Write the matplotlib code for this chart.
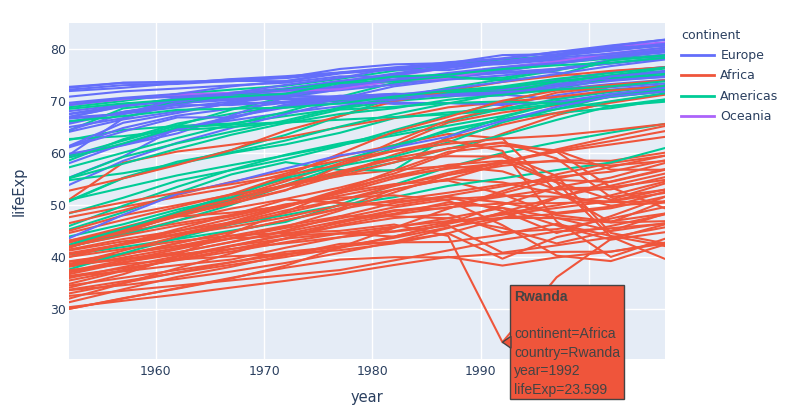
import matplotlib
matplotlib.use("Agg")
import matplotlib.pyplot as plt
from matplotlib.lines import Line2D
from matplotlib.patches import Rectangle, Polygon

years = [1952, 1957, 1962, 1967, 1972, 1977, 1982, 1987, 1992, 1997, 2002, 2007]

europe = {
    "Albania": [55.23, 59.28, 64.82, 66.22, 67.69, 68.93, 70.42, 72.0, 71.581, 72.95, 75.651, 76.423],
    "Austria": [66.8, 67.48, 69.54, 70.14, 70.63, 72.17, 73.18, 74.94, 76.04, 77.51, 78.98, 79.829],
    "Belgium": [68.0, 69.24, 70.25, 70.94, 71.44, 72.8, 73.93, 75.35, 76.46, 77.53, 78.32, 79.441],
    "Bosnia and Herzegovina": [53.82, 58.45, 61.93, 64.79, 67.45, 69.86, 70.69, 71.14, 72.178, 73.244, 74.09, 74.852],
    "Bulgaria": [59.6, 66.61, 69.51, 70.42, 70.9, 70.81, 71.34, 71.19, 71.19, 70.32, 72.14, 73.005],
    "Croatia": [61.21, 64.77, 67.13, 68.5, 69.61, 70.64, 70.46, 71.52, 72.527, 73.68, 74.876, 75.748],
    "Czech Republic": [66.87, 69.03, 69.9, 70.38, 70.29, 70.71, 70.96, 71.58, 72.4, 74.01, 75.51, 76.486],
    "Denmark": [70.78, 71.81, 72.35, 72.96, 73.47, 74.69, 74.63, 74.8, 75.33, 76.11, 77.18, 78.332],
    "Finland": [66.55, 67.49, 68.75, 69.83, 70.87, 72.52, 74.55, 74.83, 75.7, 77.13, 78.37, 79.313],
    "France": [67.41, 68.93, 70.51, 71.55, 72.38, 73.83, 74.89, 76.34, 77.46, 78.64, 79.59, 80.657],
    "Germany": [67.5, 69.1, 70.3, 70.8, 71.0, 72.5, 73.8, 74.847, 76.07, 77.34, 78.67, 79.406],
    "Greece": [65.86, 67.86, 69.51, 71.0, 72.34, 73.68, 75.24, 76.67, 77.03, 77.869, 78.256, 79.483],
    "Hungary": [64.03, 66.41, 67.96, 69.5, 69.76, 69.95, 69.39, 69.58, 69.17, 71.04, 72.59, 73.338],
    "Iceland": [72.49, 73.47, 73.68, 73.73, 74.46, 76.11, 76.99, 77.23, 78.77, 78.95, 80.5, 81.757],
    "Ireland": [66.91, 68.9, 70.29, 71.08, 71.28, 72.03, 73.1, 74.36, 75.467, 76.122, 77.783, 78.885],
    "Italy": [65.94, 67.81, 69.24, 71.06, 72.19, 73.48, 74.98, 76.42, 77.44, 78.82, 80.24, 80.546],
    "Montenegro": [59.164, 61.448, 63.728, 67.178, 70.636, 73.066, 74.101, 74.865, 75.435, 75.445, 73.981, 74.543],
    "Netherlands": [72.13, 72.99, 73.23, 73.82, 73.75, 75.24, 76.05, 76.83, 77.42, 78.03, 78.53, 79.762],
    "Norway": [72.67, 73.44, 73.47, 74.08, 74.34, 75.37, 75.97, 75.89, 77.32, 78.32, 79.05, 80.196],
    "Poland": [61.31, 65.77, 67.64, 69.61, 70.85, 70.67, 71.32, 70.98, 70.99, 72.75, 74.67, 75.563],
    "Portugal": [59.82, 61.51, 64.39, 66.6, 69.26, 70.41, 72.77, 74.06, 74.86, 75.97, 77.29, 78.098],
    "Romania": [61.05, 64.1, 66.8, 66.8, 69.21, 69.46, 69.66, 69.53, 69.36, 69.72, 71.322, 72.476],
    "Serbia": [57.996, 61.685, 64.531, 66.914, 68.7, 70.3, 70.162, 71.218, 71.659, 72.232, 73.213, 74.002],
    "Slovak Republic": [64.36, 67.45, 70.33, 70.98, 70.35, 70.45, 70.8, 71.08, 71.38, 72.71, 73.8, 74.663],
    "Slovenia": [65.57, 67.85, 69.15, 69.18, 69.82, 70.97, 71.063, 72.25, 73.64, 75.13, 76.66, 77.926],
    "Spain": [64.94, 66.66, 69.69, 71.44, 73.06, 74.39, 76.3, 76.9, 77.57, 78.77, 79.78, 80.941],
    "Sweden": [71.86, 72.49, 73.37, 74.16, 74.72, 75.44, 76.42, 77.19, 78.16, 79.39, 80.04, 80.884],
    "Switzerland": [69.62, 70.56, 71.32, 72.77, 73.78, 75.39, 76.21, 77.41, 78.03, 79.37, 80.62, 81.701],
    "Turkey": [43.585, 48.079, 52.098, 54.336, 57.005, 59.507, 61.036, 63.108, 66.146, 68.835, 70.845, 71.777],
    "United Kingdom": [69.18, 70.42, 70.76, 71.36, 72.01, 72.76, 74.04, 75.007, 76.42, 77.218, 78.471, 79.425],
}

africa = {
    "Algeria": [43.077, 45.685, 48.303, 51.407, 54.518, 58.014, 61.368, 65.799, 67.744, 69.152, 70.994, 72.301],
    "Angola": [30.015, 31.999, 34.0, 35.985, 37.928, 39.483, 39.942, 39.906, 40.647, 40.963, 41.003, 42.731],
    "Benin": [38.223, 40.358, 42.618, 44.885, 47.014, 49.19, 50.904, 52.337, 53.919, 54.777, 54.406, 56.728],
    "Botswana": [47.622, 49.618, 51.52, 53.298, 56.024, 59.319, 61.484, 63.622, 62.745, 52.556, 46.634, 50.728],
    "Burkina Faso": [31.975, 34.906, 37.814, 40.697, 43.591, 46.137, 48.122, 49.557, 50.26, 50.324, 50.65, 52.295],
    "Burundi": [39.031, 40.533, 42.045, 43.548, 44.057, 45.91, 47.471, 48.211, 44.736, 45.326, 47.36, 49.58],
    "Cameroon": [38.523, 40.428, 42.643, 44.799, 47.049, 49.355, 52.961, 54.985, 54.314, 52.199, 49.856, 50.43],
    "Central African Republic": [35.463, 37.464, 39.475, 41.478, 43.457, 46.775, 48.295, 50.485, 49.396, 46.066, 43.308, 44.741],
    "Chad": [38.092, 39.881, 41.716, 43.601, 45.569, 47.383, 49.517, 51.051, 51.724, 51.573, 50.525, 50.651],
    "Comoros": [40.715, 42.46, 44.467, 46.472, 48.944, 50.939, 52.933, 54.926, 57.939, 60.66, 62.974, 65.152],
    "Congo, Dem. Rep.": [39.143, 40.652, 42.122, 44.056, 45.989, 47.804, 47.784, 47.412, 45.548, 42.587, 44.966, 46.462],
    "Congo, Rep.": [42.111, 45.053, 48.435, 52.04, 54.907, 55.625, 56.695, 57.47, 56.433, 52.962, 52.97, 55.322],
    "Cote d'Ivoire": [40.477, 42.469, 44.93, 47.35, 49.801, 52.374, 53.983, 54.655, 52.044, 47.991, 46.832, 48.328],
    "Djibouti": [34.812, 37.328, 39.693, 42.074, 44.366, 46.519, 48.812, 50.04, 51.604, 53.157, 53.373, 54.791],
    "Egypt": [41.893, 44.444, 46.992, 49.293, 51.137, 53.319, 56.006, 59.797, 63.674, 67.217, 69.806, 71.338],
    "Equatorial Guinea": [34.482, 35.983, 37.485, 38.987, 40.516, 42.024, 43.662, 45.664, 47.545, 48.245, 49.348, 51.579],
    "Eritrea": [35.928, 38.047, 40.158, 42.189, 44.142, 44.535, 43.89, 46.453, 49.991, 53.378, 55.24, 58.04],
    "Ethiopia": [34.078, 36.667, 40.059, 42.115, 43.515, 44.51, 44.916, 46.684, 48.091, 49.402, 50.725, 52.947],
    "Gabon": [37.003, 38.999, 40.489, 44.598, 48.69, 52.79, 56.564, 60.19, 61.366, 60.461, 56.761, 56.735],
    "Gambia": [30.0, 32.065, 33.896, 35.857, 38.308, 41.842, 45.58, 49.265, 52.644, 55.861, 58.041, 59.448],
    "Ghana": [43.149, 44.779, 46.452, 48.072, 49.875, 51.756, 53.744, 55.729, 57.501, 58.556, 58.453, 60.022],
    "Guinea": [33.609, 34.558, 35.753, 37.197, 38.842, 40.762, 42.891, 45.552, 48.576, 51.455, 53.676, 56.007],
    "Guinea-Bissau": [32.5, 33.489, 34.488, 35.492, 36.486, 37.465, 39.327, 41.245, 43.266, 44.873, 45.504, 46.388],
    "Kenya": [42.27, 44.686, 47.949, 50.654, 53.559, 56.155, 58.766, 59.339, 59.285, 54.407, 50.992, 54.11],
    "Lesotho": [42.138, 45.047, 47.747, 48.492, 49.767, 52.208, 55.078, 57.18, 59.685, 55.558, 44.593, 42.592],
    "Liberia": [38.48, 39.486, 40.502, 41.536, 42.614, 43.764, 44.852, 46.027, 40.802, 42.221, 43.753, 45.678],
    "Libya": [42.723, 45.289, 47.808, 50.227, 52.773, 57.442, 62.155, 66.234, 68.755, 71.555, 72.737, 73.952],
    "Madagascar": [36.681, 38.865, 40.848, 42.881, 44.851, 46.881, 48.969, 49.35, 52.214, 54.978, 57.286, 59.443],
    "Malawi": [36.256, 37.207, 38.41, 39.487, 41.766, 43.767, 45.642, 47.457, 49.42, 47.495, 45.009, 48.303],
    "Mali": [33.685, 35.307, 36.936, 38.487, 39.977, 41.714, 43.916, 46.364, 48.388, 49.903, 51.818, 54.467],
    "Mauritania": [40.543, 42.338, 44.248, 46.289, 48.437, 50.852, 53.599, 56.145, 58.333, 60.43, 62.247, 64.164],
    "Mauritius": [50.986, 58.089, 60.246, 61.557, 62.944, 64.93, 66.711, 68.74, 69.745, 70.736, 71.954, 72.801],
    "Morocco": [42.873, 45.423, 47.924, 50.335, 52.862, 55.73, 59.65, 62.677, 65.393, 67.66, 69.615, 71.164],
    "Mozambique": [31.286, 33.779, 36.161, 38.113, 40.328, 42.495, 42.795, 42.861, 44.284, 46.344, 44.026, 42.082],
    "Namibia": [41.725, 45.226, 48.386, 51.159, 53.867, 56.437, 58.968, 60.835, 61.999, 58.909, 51.479, 52.906],
    "Niger": [37.444, 38.598, 39.487, 40.118, 40.546, 41.291, 42.598, 44.555, 47.391, 51.313, 54.496, 56.867],
    "Nigeria": [36.324, 37.802, 39.36, 41.04, 42.821, 44.514, 45.826, 46.886, 47.472, 47.464, 46.608, 46.859],
    "Reunion": [52.724, 55.09, 57.666, 60.542, 64.274, 67.064, 69.885, 71.913, 73.615, 74.772, 75.744, 76.442],
    "Rwanda": [40.0, 41.5, 43.0, 44.1, 44.6, 45.0, 46.218, 44.02, 23.599, 36.087, 43.413, 46.242],
    "Sao Tome and Principe": [46.471, 48.945, 51.893, 54.425, 56.48, 58.55, 60.351, 61.728, 62.742, 63.306, 64.337, 65.528],
    "Senegal": [37.278, 39.329, 41.454, 43.563, 45.815, 48.879, 52.379, 55.769, 58.196, 60.187, 61.6, 63.062],
    "Sierra Leone": [30.331, 31.57, 32.767, 34.113, 35.4, 36.788, 38.445, 40.006, 38.333, 39.897, 41.012, 42.568],
    "Somalia": [32.978, 34.977, 36.981, 38.977, 40.973, 41.974, 42.955, 44.501, 39.658, 43.795, 45.936, 48.159],
    "South Africa": [45.009, 47.985, 49.951, 51.927, 53.696, 55.527, 58.161, 60.834, 61.888, 60.236, 53.365, 49.339],
    "Sudan": [38.635, 39.624, 40.87, 42.858, 45.083, 47.8, 50.338, 51.744, 53.556, 55.373, 56.369, 58.556],
    "Swaziland": [41.407, 43.424, 44.992, 46.633, 49.552, 52.537, 55.561, 57.678, 58.474, 54.289, 43.869, 39.613],
    "Tanzania": [41.215, 42.974, 44.246, 45.757, 47.62, 49.919, 50.608, 51.535, 50.44, 48.466, 49.651, 52.517],
    "Togo": [38.596, 41.208, 43.922, 46.769, 49.759, 52.887, 55.471, 56.941, 58.061, 58.39, 57.561, 58.42],
    "Tunisia": [44.6, 47.1, 49.579, 52.053, 55.602, 59.837, 64.048, 66.894, 70.001, 71.973, 73.042, 73.923],
    "Uganda": [39.978, 42.571, 45.344, 48.051, 51.016, 50.35, 49.849, 51.509, 48.825, 44.578, 47.813, 51.542],
    "Zambia": [42.038, 44.077, 46.023, 47.768, 50.107, 51.386, 51.821, 50.821, 46.1, 40.238, 39.193, 42.384],
    "Zimbabwe": [48.451, 50.469, 52.358, 53.995, 55.635, 57.674, 60.363, 62.351, 60.377, 46.809, 39.989, 43.487],
}

americas = {
    "Argentina": [62.485, 64.399, 65.142, 65.634, 67.065, 68.481, 69.942, 70.774, 71.868, 73.275, 74.34, 75.32],
    "Bolivia": [40.414, 41.89, 43.428, 45.032, 46.714, 50.023, 53.859, 57.251, 59.957, 62.05, 63.883, 65.554],
    "Brazil": [50.917, 53.285, 55.665, 57.632, 59.504, 61.489, 63.336, 65.205, 67.057, 69.388, 71.006, 72.39],
    "Canada": [68.75, 69.96, 71.3, 72.13, 72.88, 74.21, 75.76, 76.86, 77.95, 78.61, 79.77, 80.653],
    "Chile": [54.745, 56.074, 57.924, 60.523, 63.441, 67.052, 70.565, 72.492, 74.126, 75.816, 77.86, 78.553],
    "Colombia": [50.643, 55.118, 57.863, 59.963, 61.623, 63.837, 66.653, 67.768, 68.421, 70.313, 71.682, 72.889],
    "Costa Rica": [57.206, 60.026, 62.842, 65.424, 67.849, 70.75, 73.45, 74.752, 75.713, 77.26, 78.123, 78.782],
    "Cuba": [59.421, 62.325, 65.246, 68.29, 70.723, 72.649, 73.717, 74.174, 74.414, 76.151, 77.158, 78.273],
    "Dominican Republic": [45.928, 49.828, 53.459, 56.751, 59.631, 61.788, 63.727, 66.046, 68.457, 69.957, 70.847, 72.235],
    "Ecuador": [48.357, 51.356, 54.64, 56.678, 58.796, 61.31, 64.342, 67.231, 69.613, 72.312, 74.173, 74.994],
    "El Salvador": [45.262, 48.57, 52.307, 55.855, 58.207, 56.696, 56.604, 63.154, 66.798, 69.535, 70.734, 71.878],
    "Guatemala": [42.023, 44.142, 46.954, 50.016, 53.738, 56.029, 58.137, 60.782, 63.373, 66.322, 68.978, 70.259],
    "Haiti": [37.579, 40.696, 43.59, 46.243, 48.042, 49.923, 51.461, 53.636, 55.089, 56.671, 58.137, 60.916],
    "Honduras": [41.912, 44.665, 48.041, 50.924, 53.884, 57.402, 60.909, 64.492, 66.399, 67.659, 68.565, 70.198],
    "Jamaica": [58.53, 62.61, 65.61, 67.51, 69.0, 70.11, 71.21, 71.77, 71.766, 72.262, 72.047, 72.567],
    "Mexico": [50.789, 55.19, 58.299, 60.11, 62.361, 65.032, 67.405, 69.498, 71.455, 73.67, 74.902, 76.195],
    "Nicaragua": [42.314, 45.432, 48.632, 51.884, 55.151, 57.47, 59.298, 62.008, 65.843, 68.426, 70.836, 72.899],
    "Panama": [55.191, 59.201, 61.817, 64.071, 66.216, 68.681, 70.472, 71.523, 72.462, 73.738, 74.712, 75.537],
    "Paraguay": [62.649, 63.196, 64.361, 64.951, 65.815, 66.353, 66.874, 67.378, 68.225, 69.4, 70.755, 71.752],
    "Peru": [43.902, 46.263, 49.096, 51.445, 55.448, 58.447, 61.406, 64.134, 66.458, 68.386, 69.906, 71.421],
    "Puerto Rico": [64.28, 68.54, 69.62, 71.1, 72.16, 73.44, 73.75, 74.63, 73.911, 74.917, 77.778, 78.746],
    "Trinidad and Tobago": [59.1, 61.8, 64.9, 65.4, 65.9, 68.3, 68.832, 69.582, 69.862, 69.465, 68.976, 69.819],
    "United States": [68.44, 69.49, 70.21, 70.76, 71.34, 73.38, 74.65, 75.02, 76.09, 76.81, 77.31, 78.242],
    "Uruguay": [66.071, 67.044, 68.253, 68.468, 68.673, 69.481, 70.805, 71.918, 72.752, 74.223, 75.307, 76.384],
    "Venezuela": [55.088, 57.907, 60.77, 63.479, 65.712, 67.456, 68.557, 70.19, 71.15, 72.146, 72.766, 73.747],
}

oceania = {
    "Australia": [69.12, 70.33, 70.93, 71.1, 71.93, 73.49, 74.74, 76.32, 77.56, 78.83, 80.37, 81.235],
    "New Zealand": [69.39, 70.26, 71.24, 71.52, 71.89, 72.22, 73.84, 74.32, 76.33, 77.55, 79.11, 80.204],
}

continents = ["Europe", "Africa", "Americas", "Oceania"]
colors = {"Europe": "#636efa", "Africa": "#EF553B", "Americas": "#00cc96", "Oceania": "#ab63fa"}
data = {"Europe": europe, "Africa": africa, "Americas": americas, "Oceania": oceania}

x_ticks = [1960, 1970, 1980, 1990, 2000]
x_tick_labels = ["1960", "1970", "1980", "1990", ""]  # 2000 is hidden behind the hover label
y_ticks = [30, 40, 50, 60, 70, 80]

hover_country = "Rwanda"
hover_year = 1992

plt.rcParams['font.family'] = ['DejaVu Sans']
txt = "#2a3f5f"

fig = plt.figure(figsize=(7.9, 4.19), dpi=100)
W, H = 790, 419
ax = fig.add_axes([69 / W, (H - 359) / H, (665 - 69) / W, (359 - 23) / H])
ax.set_facecolor("#E5ECF6")

rows = []
for cont in continents:
    for name, vals in data[cont].items():
        rows.append((name, cont, vals))
rows.sort(key=lambda r: r[0])
for name, cont, vals in rows:
    ax.plot(years, vals, color=colors[cont], lw=1.5, solid_joinstyle="round",
            solid_capstyle="round", zorder=3)

ax.set_xlim(1952, 2007)
ax.set_ylim(20.38, 84.94)
ax.set_xticks(x_ticks)
ax.set_xticklabels(x_tick_labels)
ax.set_yticks(y_ticks)
ax.grid(True, color="white", lw=1, zorder=1)
ax.set_axisbelow(True)
for s in ax.spines.values():
    s.set_visible(False)
ax.tick_params(length=0, labelsize=9, labelcolor=txt)
ax.tick_params(axis="x", pad=4)
ax.tick_params(axis="y", pad=2)
ax.set_xlabel("year", fontsize=10.5, color=txt, labelpad=9)
ax.set_ylabel("lifeExp", fontsize=10.5, color=txt, labelpad=17)

handles = [Line2D([0], [0], color=colors[c], lw=2) for c in continents]
leg = fig.legend(handles, continents, loc="upper left",
                 bbox_to_anchor=(681 / W, 1 - 29 / H), frameon=False,
                 title="continent", fontsize=9, title_fontsize=9,
                 handlelength=2.6, handletextpad=0.55, labelspacing=0.6,
                 borderpad=0, borderaxespad=0)
leg._legend_box.align = "left"
leg._legend_box.sep = 5
for t in leg.get_texts():
    t.set_color(txt)
leg.get_title().set_color(txt)

# hover label
fig.canvas.draw()
hx = years.index(hover_year)
hv = africa[hover_country][hx]
px, py = ax.transData.transform((hover_year, hv))
py_top = H - py  # pixel from top
bx0 = px + 8
by0 = py_top - 57
bw, bh = 114, 114
hc = colors["Africa"]
edge = "#444444"
rect = Rectangle((bx0 / W, 1 - (by0 + bh) / H), bw / W, bh / H,
                 transform=fig.transFigure, facecolor=hc, edgecolor=edge,
                 lw=1, zorder=10)
fig.add_artist(rect)
tri = Polygon([((bx0 + 0.5) / W, 1 - (py_top - 6) / H), (px / W, 1 - py_top / H),
               ((bx0 + 0.5) / W, 1 - (py_top + 6) / H)], closed=True,
              transform=fig.transFigure, facecolor=hc, edgecolor=edge, lw=1, zorder=11)
fig.add_artist(tri)
hfont = ["Liberation Sans", "DejaVu Sans"]
fig.text((bx0 + 3.5) / W, 1 - (by0 + 12) / H, hover_country, fontsize=10.1,
         fontweight="bold", color="#444444", va="center", ha="left",
         family=hfont, zorder=12)
lines = [f"continent=Africa", f"country={hover_country}",
         f"year={hover_year}", f"lifeExp={hv}"]
for i, l in enumerate(lines):
    fig.text((bx0 + 3.5) / W, 1 - (by0 + 49 + 18.5 * i) / H, l, fontsize=10.1,
             color="#444444", va="center", ha="left",
             family=hfont, zorder=12)

fig.savefig("out.png", dpi=100)
